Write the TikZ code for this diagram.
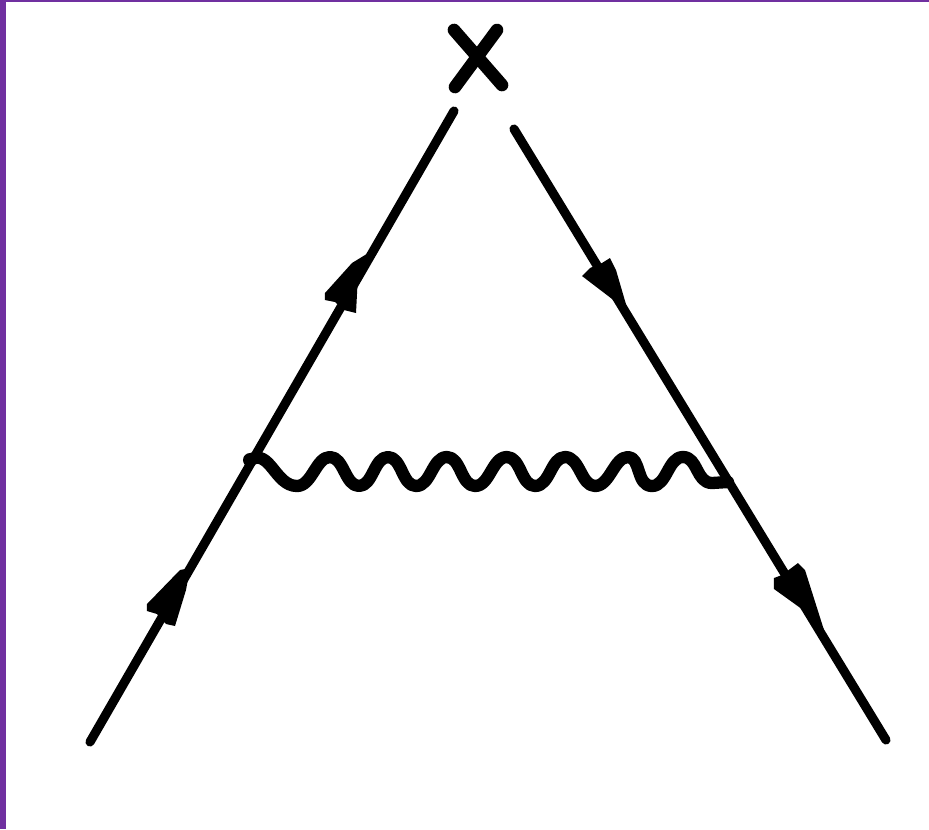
\documentclass[tikz,border=0pt]{standalone}
\definecolor{frame}{RGB}{112,48,160}
\tikzset{
  fermion/.style={line width=2.6pt, black, line cap=round},
  crossarm/.style={line width=3.6pt, black, line cap=round},
  photon/.style={line width=3.5pt, black, line cap=round, line join=round},
  head/.style={fill=black, draw=none},
}
\begin{document}
\begin{tikzpicture}[x=0.01cm,y=-0.01cm]
\useasboundingbox (0,0) rectangle (929,829);
\fill[white] (0,0) rectangle (929,829);
\fill[frame] (0,0) rectangle (6,829);
\fill[frame] (0,0) rectangle (929,1.5);
\coordinate (inL) at (90,742);
\coordinate (topL) at (454,111);
\coordinate (topR) at (514,129);
\coordinate (outR) at (886,740);
\coordinate (vL) at (250,460);
\coordinate (vR) at (728,482);
\coordinate (xa) at (454,30);
\coordinate (xb) at (502,85);
\coordinate (xc) at (497,30);
\coordinate (xd) at (455,87);
\draw[fermion] (inL) -- (topL);
\draw[fermion] (topR) -- (outR);
\draw[crossarm] (xa) -- (xb);
\draw[crossarm] (xc) -- (xd);
\fill[black] (250,460) circle (7);
\draw[photon] (vL) .. controls (270,448) and (275,486) .. (297,486)
  .. controls (312,486) and (316,457) .. (330,457)
  .. controls (344,457) and (345,486) .. (359,486)
  .. controls (373,486) and (374,457) .. (388,457)
  .. controls (402,457) and (402,486) .. (416,486)
  .. controls (431,486) and (432,457) .. (447,457)
  .. controls (461,457) and (461,486) .. (475,486)
  .. controls (490,486) and (492,457) .. (507,457)
  .. controls (521,457) and (521,486) .. (535,486)
  .. controls (550,486) and (551,457) .. (565,457)
  .. controls (580,457) and (581,486) .. (595,486)
  .. controls (610,486) and (614,457) .. (628,457)
  .. controls (641,457) and (636,486) .. (652,486)
  .. controls (667,486) and (668,457) .. (683,457)
  .. controls (698,457) and (696,483) .. (712,483) -- (vR);
\fill[head] (370,252) -- (358,275) -- (356,313) -- (344,310) -- (335,302) -- (325,300) -- (325,293) -- (352,263) -- cycle;
\fill[head] (190,568) -- (186,590) -- (175,626) -- (166,624) -- (157,614) -- (147,611) -- (147,604) -- (180,570) -- cycle;
\fill[head] (630,318) -- (620,305) -- (582,276) -- (590,268) -- (602,263) -- (610,258) -- (616,270) -- cycle;
\fill[head] (824,630) -- (806,612) -- (774,589) -- (774,578) -- (782,575) -- (798,563) -- (805,570) -- cycle;
\end{tikzpicture}
\end{document}
